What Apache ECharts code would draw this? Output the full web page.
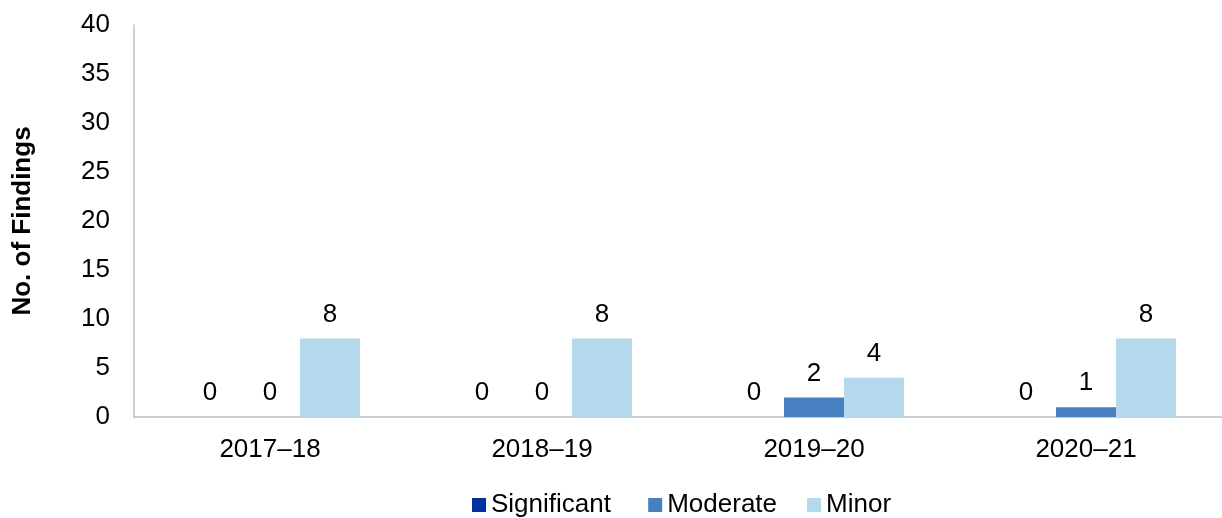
<!DOCTYPE html>
<html>
<head>
<meta charset="utf-8">
<script src="https://cdn.jsdelivr.net/npm/echarts@6/dist/echarts.min.js"></script>
<style>
  html, body { margin: 0; padding: 0; background: #fff; }
  #chart { width: 1222px; height: 518px; }
</style>
</head>
<body>
<div id="chart"></div>
<script>
// Audit findings by rating, per financial year
const years = ['2017–18', '2018–19', '2019–20', '2020–21'];
const significant = [0, 0, 0, 0];
const moderate = [0, 0, 2, 1];
const minor = [8, 8, 4, 8];
const yTicks = { min: 0, max: 40, interval: 5 };

const FONT = 'Liberation Sans, Arial, sans-serif';
const textColor = '#000';

function barSeries(name, data, color) {
  return {
    name: name,
    type: 'bar',
    data: data,
    barWidth: 60,
    barGap: '0%',
    itemStyle: { color: color },
    label: {
      show: true,
      position: 'top',
      distance: 11,
      color: textColor,
      fontFamily: FONT,
      fontSize: 26
    }
  };
}

const chart = echarts.init(document.getElementById('chart'), null, { renderer: 'canvas' });
chart.setOption({
  animation: false,
  backgroundColor: '#fff',
  textStyle: { fontFamily: FONT },
  grid: { left: 134, top: 25, width: 1091, height: 392, containLabel: false },
  legend: {
    left: 472,
    top: 492,
    padding: 0,
    itemWidth: 14,
    itemHeight: 14,
    itemGap: 30,
    icon: 'rect',
    // the first entry carries a little extra room after its text
    formatter: function (name) { return name === 'Significant' ? name + ' ' : name; },
    textStyle: { fontFamily: FONT, fontSize: 26, color: textColor },
    data: ['Significant', 'Moderate', 'Minor']
  },
  xAxis: {
    type: 'category',
    data: years,
    axisLine: { lineStyle: { color: '#BFBFBF', width: 1.5 } },
    axisTick: { show: false },
    axisLabel: { color: textColor, fontFamily: FONT, fontSize: 26, margin: 20 }
  },
  yAxis: {
    type: 'value',
    min: yTicks.min,
    max: yTicks.max,
    interval: yTicks.interval,
    name: 'No. of Findings',
    nameLocation: 'middle',
    nameGap: 98,
    nameTextStyle: { fontFamily: FONT, fontSize: 26, fontWeight: 'bold', color: textColor },
    axisLine: { show: true, lineStyle: { color: '#BFBFBF', width: 1.5 } },
    axisTick: { show: false },
    splitLine: { show: false },
    axisLabel: { color: textColor, fontFamily: FONT, fontSize: 26, margin: 24 }
  },
  series: [
    barSeries('Significant', significant, '#0033A0'),
    barSeries('Moderate', moderate, '#487FC1'),
    barSeries('Minor', minor, '#B4D9EC')
  ]
});
</script>
</body>
</html>
